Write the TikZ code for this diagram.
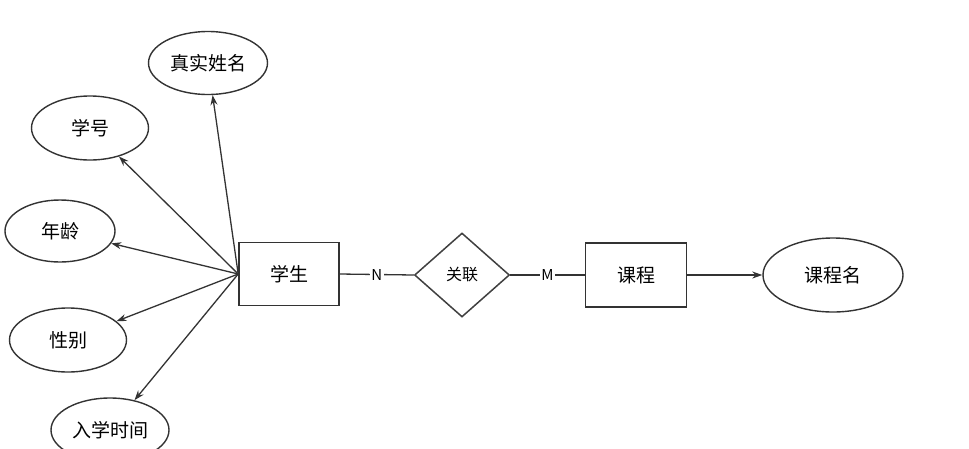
\documentclass[tikz,border=0pt]{standalone}
\usepackage{fontspec}
\setmainfont{Noto Sans CJK SC}
\usetikzlibrary{shapes.geometric,arrows.meta}

\begin{document}
\begin{tikzpicture}[
  x=1pt, y=-1pt,
  font=\fontsize{19}{22}\selectfont,
  entity/.style={draw=black!80, line width=1.6pt, minimum width=100pt,
                 minimum height=63pt, inner sep=0pt},
  attr/.style={draw=black!80, ellipse, line width=1.4pt, minimum width=117pt,
               minimum height=64pt, inner sep=0pt},
  rel/.style={draw=black!75, diamond, line width=1.5pt, minimum width=95pt,
              minimum height=84pt, inner sep=0pt,
              font=\fontsize{16}{18}\selectfont},
  card/.style={fill=white, inner sep=1.5pt, font=\fontsize{15}{17}\selectfont},
  link/.style={line width=1.3pt, draw=black!80},
  toattr/.style={link, -{Stealth[length=10pt, width=7pt]}},
]
\useasboundingbox[fill=white] (0,0) rectangle (969,448);

% ── entities and relationship ─────────────────────────────────────────────────
\node[entity] (student) at (289,274) {学生};
\node[rel] (assoc) at (462,275) {关联};
\node[entity, minimum width=101pt, minimum height=64pt] (course) at (636,275) {课程};

% ── attributes ────────────────────────────────────────────────────────────────
\node[attr, minimum width=119pt, minimum height=63pt] (realname) at (208,63) {真实姓名};
\node[attr] (stuno) at (90,128) {学号};
\node[attr, minimum width=110pt, minimum height=62pt] (age) at (60,231) {年龄};
\node[attr] (sex) at (68,340) {性别};
\node[attr, minimum width=118pt] (enroll) at (110,430) {入学时间};
\node[attr, minimum width=140pt, minimum height=74pt] (cname) at (833,275) {课程名};

% ── connectors ────────────────────────────────────────────────────────────────
\foreach \a in {realname, stuno, age, sex, enroll}
  \draw[toattr] (student.west) -- (\a);
\draw[link] (student.east) -- node[card]{N} (assoc.west);
\draw[link] (assoc.east) -- node[card]{M} (course.west);
\draw[toattr] (course.east) -- (cname);

\end{tikzpicture}
\end{document}
